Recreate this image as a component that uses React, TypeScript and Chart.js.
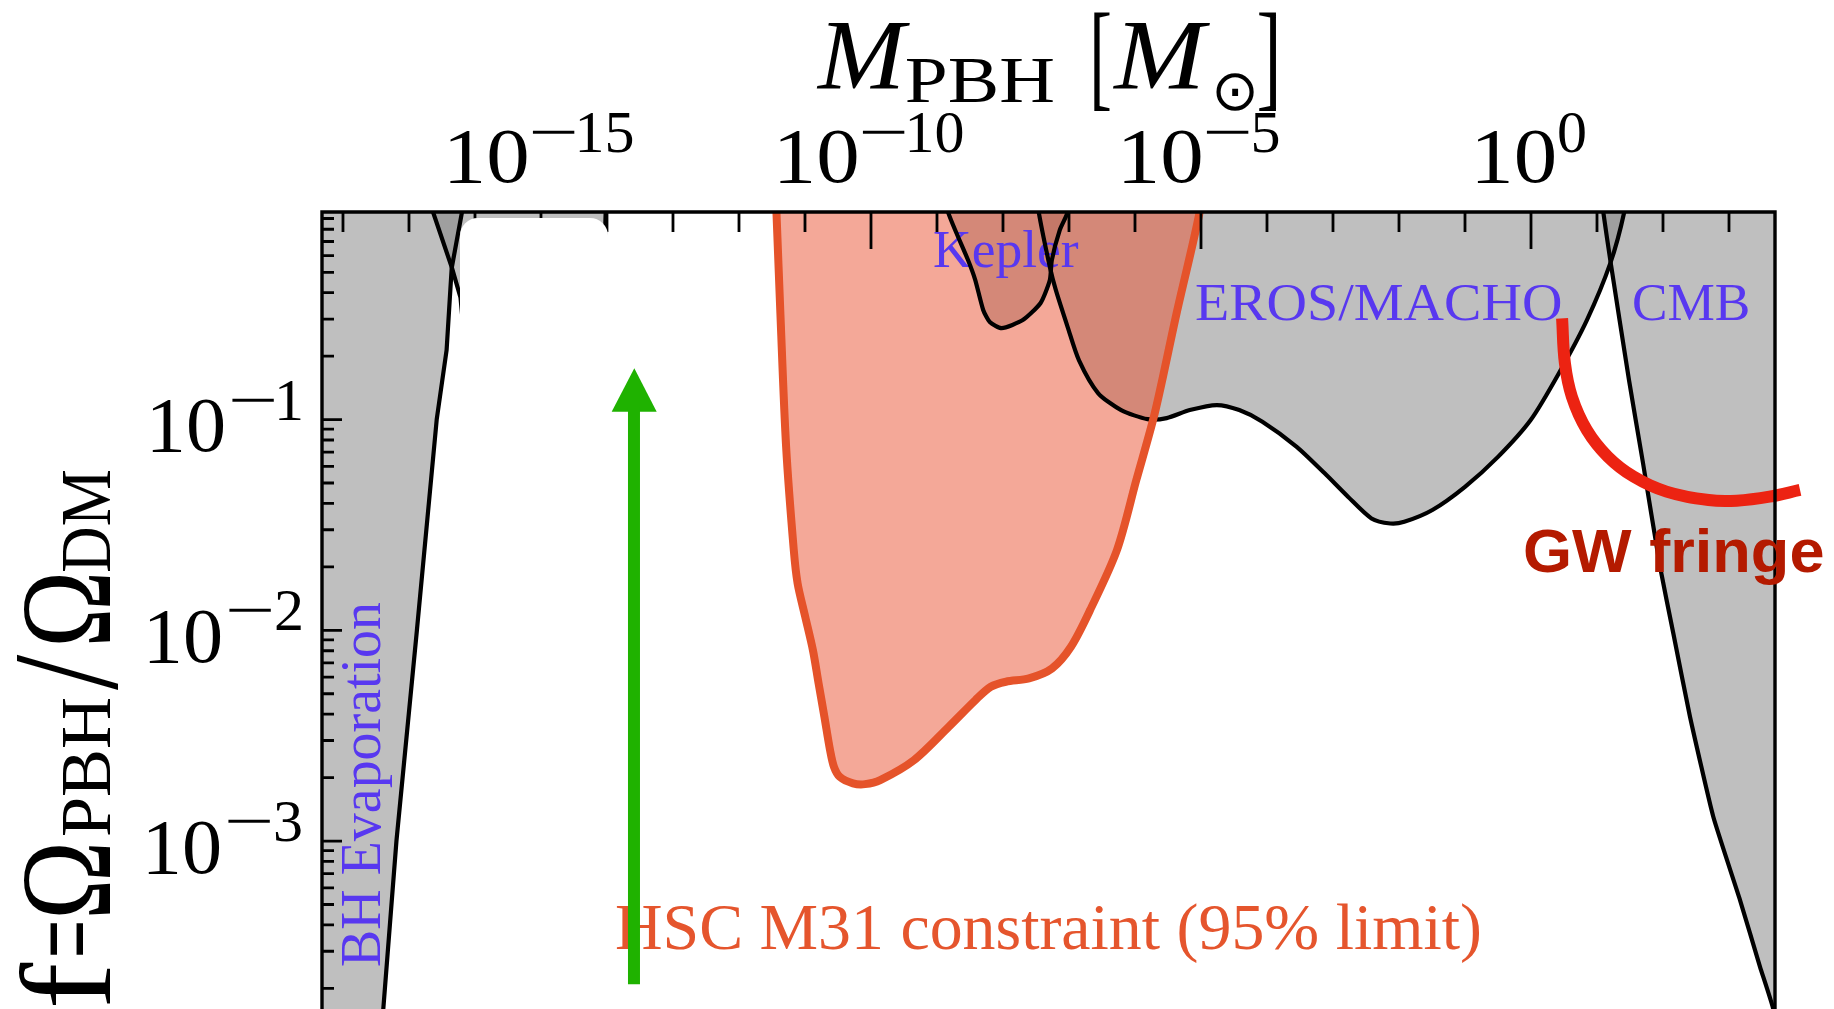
import React, { useEffect, useRef } from 'react';
import { Chart, registerables } from 'chart.js';

Chart.register(...registerables);

// ---------------- axis ranges (log10 units) ----------------
const X_LOG_MIN = -18.318;
const X_LOG_MAX = 3.697;
const Y_LOG_MIN = -3.797;
const Y_LOG_MAX = -0.015;

// ---------------- tick definitions ----------------
const xTickExps = [-18, -17, -16, -15, -14, -13, -12, -11, -10, -9, -8, -7, -6, -5, -4, -3, -2, -1, 0, 1, 2, 3];
const xLabelExps = [-15, -10, -5, 0];
const yDecadeExps = [0, -1, -2, -3, -4];
const yLabelExps = [-1, -2, -3];
const yMinorMultipliers = [2, 3, 4, 5, 6, 7, 8, 9];

// ---------------- constraint boundaries: log10(M/Msun), log10(f) ----------------
const evapLogM = [-16.15, -16.197, -16.353, -16.43, -16.58, -16.88, -17.19, -17.39, -17.45, -19.5, -19.5];
const evapLogF = [0.1, -0.015, -0.281, -0.67, -1.0, -2.0, -3.0, -3.8, -4.1, -4.1, 0.1];

const hiddenLogM = [-16.7, -16.636, -16.348, -16.22, -16.07, -14.1, -14.02, -14.0];
const hiddenLogF = [0.1, -0.015, -0.281, -0.42, -0.92, -0.92, -0.015, 0.1];

const keplerLogM = [-8.87, -8.833, -8.53, -8.42, -8.3, -8.2, -8.02, -7.7, -7.43, -7.29, -7.26, -7.14, -7.02, -6.99];
const keplerLogF = [0.1, -0.015, -0.243, -0.338, -0.48, -0.537, -0.566, -0.528, -0.447, -0.338, -0.243, -0.101, -0.015, 0.1];

const erosLogM = [-7.5, -7.459, -7.29, -7.2, -7.02, -6.85, -6.56, -6.21, -5.81, -5.52, -5.17, -4.76, -4.42, -4.07, -3.55, -3.126, -2.773, -2.417, -2.132, -1.92, -1.494, -1.0, -0.5, -0.005, 0.421, 0.847, 1.201, 1.413, 1.45];
const erosLogF = [0.1, -0.015, -0.276, -0.385, -0.561, -0.718, -0.874, -0.955, -0.998, -0.993, -0.955, -0.931, -0.955, -1.01, -1.129, -1.255, -1.366, -1.469, -1.493, -1.485, -1.429, -1.319, -1.177, -1.002, -0.781, -0.528, -0.259, -0.015, 0.1];

const cmbLogM = [4.5, 1.06, 1.095, 1.201, 1.485, 1.697, 1.955, 2.156, 2.409, 2.762, 3.167, 3.47, 3.67, 3.75, 4.5];
const cmbLogF = [0.1, 0.1, -0.015, -0.243, -0.813, -1.206, -1.698, -2.014, -2.41, -2.885, -3.28, -3.597, -3.797, -4.0, -4.0];

const hscLogM = [-11.45, -11.432, -11.373, -11.286, -11.17, -11.112, -10.997, -10.88, -10.794, -10.706, -10.62, -10.561, -10.474, -10.273, -10.09, -9.86, -9.348, -8.823, -8.417, -8.185, -7.955, -7.606, -7.258, -6.97, -6.68, -6.273, -5.98, -5.7, -5.37, -5.02, -4.99];
const hscLogF = [0.1, -0.02, -0.495, -1.129, -1.619, -1.777, -1.935, -2.094, -2.252, -2.41, -2.569, -2.648, -2.695, -2.726, -2.73, -2.711, -2.616, -2.458, -2.331, -2.268, -2.244, -2.228, -2.181, -2.078, -1.904, -1.619, -1.287, -0.969, -0.496, -0.015, 0.1];

const gwLogM = [0.471, 0.514, 0.62, 0.847, 1.165, 1.556, 2.053, 2.691, 3.117, 3.614, 4.076];
const gwLogF = [-0.52, -0.733, -0.892, -1.05, -1.176, -1.271, -1.342, -1.382, -1.385, -1.366, -1.334];

const arrowShaftLogM = [-13.591, -13.591];
const arrowShaftLogF = [-3.68, -0.94];
const arrowHeadLogM = [-13.929, -13.586, -13.247];
const arrowHeadLogF = [-0.963, -0.757, -0.963];

// ---------------- styles ----------------
const SERIF = '"Liberation Serif", "Times New Roman", serif';
const SANS = '"Liberation Sans", Arial, sans-serif';
const GRAY_FILL = 'rgba(128,128,128,0.5)';
const HSC_FILL = 'rgba(233,81,49,0.5)';
const HSC_LINE = '#e5532a';
const HSC_TEXT = '#e5552d';
const GREEN = '#1fb200';
const BLUE = 'rgb(88,56,240)';
const GW_LINE = '#ec2312';
const GW_TEXT = '#b41a00';

const pts = (lm: number[], lf: number[]) => lm.map((m, i) => ({ x: Math.pow(10, m), y: Math.pow(10, lf[i]) }));

const region = (label: string, lm: number[], lf: number[], tension: number) => ({
  label,
  data: pts(lm, lf),
  showLine: true,
  fill: 'shape',
  backgroundColor: GRAY_FILL,
  borderColor: '#000',
  borderWidth: 4.2,
  borderJoinStyle: 'round',
  pointRadius: 0,
  pointHitRadius: 0,
  tension,
  order: 10,
});

// ---------------- text helpers ----------------
function fitInk(ctx: CanvasRenderingContext2D, text: string, font: string, x0: number, x1: number, baseline: number, color: string) {
  ctx.save();
  ctx.font = font;
  ctx.textAlign = 'left';
  ctx.textBaseline = 'alphabetic';
  const m = ctx.measureText(text);
  const w = m.actualBoundingBoxLeft + m.actualBoundingBoxRight;
  const sx = w > 0 ? (x1 - x0) / w : 1;
  ctx.translate(x0, baseline);
  ctx.scale(sx, 1);
  ctx.fillStyle = color;
  ctx.fillText(text, m.actualBoundingBoxLeft, 0);
  ctx.restore();
}

function fitBox(ctx: CanvasRenderingContext2D, text: string, font: string, x0: number, x1: number, y0: number, y1: number, color: string) {
  ctx.save();
  ctx.font = font;
  ctx.textAlign = 'left';
  ctx.textBaseline = 'alphabetic';
  const m = ctx.measureText(text);
  const w = m.actualBoundingBoxLeft + m.actualBoundingBoxRight;
  const h = m.actualBoundingBoxAscent + m.actualBoundingBoxDescent;
  ctx.translate(x0, y0);
  ctx.scale((x1 - x0) / w, (y1 - y0) / h);
  ctx.fillStyle = color;
  ctx.fillText(text, m.actualBoundingBoxLeft, m.actualBoundingBoxAscent);
  ctx.restore();
}

function inkWidth(ctx: CanvasRenderingContext2D, text: string, font: string) {
  ctx.save();
  ctx.font = font;
  const m = ctx.measureText(text);
  ctx.restore();
  return m.actualBoundingBoxLeft + m.actualBoundingBoxRight;
}

const MAIN_TICK_FONT = `78px ${SERIF}`;
const SUP_TICK_FONT = `60px ${SERIF}`;

const decorPlugin = {
  id: 'decor',
  beforeDatasetsDraw(chart: any) {
    const ctx: CanvasRenderingContext2D = chart.ctx;
    fitInk(ctx, 'Kepler', `53px ${SERIF}`, 934, 1079, 267, BLUE);
    fitInk(ctx, 'EROS/MACHO', `53px ${SERIF}`, 1196, 1561, 320, BLUE);
    fitInk(ctx, 'CMB', `53px ${SERIF}`, 1634, 1748, 320, BLUE);
    ctx.save();
    ctx.translate(380, 966);
    ctx.rotate(-Math.PI / 2);
    fitInk(ctx, 'BH Evaporation', `58px ${SERIF}`, 0, 364, 0, BLUE);
    ctx.restore();
    fitInk(ctx, 'HSC M31 constraint (95% limit)', `66px ${SERIF}`, 616, 1480, 949, HSC_TEXT);
  },
  afterDatasetsDraw(chart: any) {
    const ctx: CanvasRenderingContext2D = chart.ctx;
    const a = chart.chartArea;
    const xs = chart.scales.x;
    const ys = chart.scales.y;
    ctx.save();
    ctx.strokeStyle = '#000';
    ctx.lineCap = 'butt';
    ctx.lineWidth = 2.8;
    ctx.beginPath();
    for (const e of xTickExps) {
      const px = xs.getPixelForValue(Math.pow(10, e));
      const len = xLabelExps.includes(e) ? 37 : 20;
      ctx.moveTo(px, a.top);
      ctx.lineTo(px, a.top + len);
    }
    for (const e of yDecadeExps) {
      const all = [1, ...yMinorMultipliers];
      for (const k of all) {
        const py = ys.getPixelForValue(k * Math.pow(10, e));
        if (py < a.top + 2 || py > a.bottom) continue;
        const len = k === 1 ? 20 : 12;
        ctx.moveTo(a.left, py);
        ctx.lineTo(a.left + len, py);
      }
    }
    ctx.stroke();
    ctx.lineWidth = 3.4;
    ctx.lineJoin = 'miter';
    ctx.beginPath();
    ctx.moveTo(a.left, a.bottom + 5);
    ctx.lineTo(a.left, a.top);
    ctx.lineTo(a.right, a.top);
    ctx.lineTo(a.right, a.bottom + 5);
    ctx.stroke();
    // white patch covering a legend in the original figure
    ctx.fillStyle = '#ffffff';
    ctx.beginPath();
    (ctx as any).roundRect(460, a.top + 6, 148, 194, 18);
    ctx.fill();
    ctx.restore();
  },
  afterDraw(chart: any) {
    const ctx: CanvasRenderingContext2D = chart.ctx;
    const a = chart.chartArea;
    const xs = chart.scales.x;
    const ys = chart.scales.y;
    // top tick labels
    for (const e of xLabelExps) {
      const px = xs.getPixelForValue(Math.pow(10, e));
      const digits = String(Math.abs(e));
      const dW = inkWidth(ctx, digits, SUP_TICK_FONT);
      const mainW = 78, minusW = 43, g1 = 4, g2 = 5;
      const total = mainW + g1 + (e < 0 ? minusW + g2 : 0) + dW;
      let x = px - total / 2;
      fitInk(ctx, '10', MAIN_TICK_FONT, x, x + mainW, a.top - 30, '#000');
      x += mainW + g1;
      if (e < 0) {
        fitInk(ctx, '\u2212', SUP_TICK_FONT, x, x + minusW, a.top - 60, '#000');
        x += minusW + g2;
      }
      fitInk(ctx, digits, SUP_TICK_FONT, x, x + dW, a.top - 60, '#000');
    }
    // left tick labels
    for (const e of yLabelExps) {
      const py = ys.getPixelForValue(Math.pow(10, e));
      const digits = String(Math.abs(e));
      const dW = inkWidth(ctx, digits, SUP_TICK_FONT);
      const right = a.left - 21;
      let x = right - dW;
      fitInk(ctx, digits, SUP_TICK_FONT, x, right, py, '#000');
      x -= 5 + 43;
      fitInk(ctx, '\u2212', SUP_TICK_FONT, x, x + 43, py, '#000');
      x -= 7 + 72;
      fitInk(ctx, '10', MAIN_TICK_FONT, x, x + 72, py + 31.6, '#000');
    }
    // x axis title: M_PBH [M_sun]
    fitInk(ctx, 'M', `italic 100px ${SERIF}`, 816, 910, 88, '#000');
    fitInk(ctx, 'PBH', `66px ${SERIF}`, 906, 1053, 102, '#000');
    fitBox(ctx, '[', `115px ${SERIF}`, 1094, 1110, 12, 110, '#000');
    fitInk(ctx, 'M', `italic 100px ${SERIF}`, 1112, 1210, 88, '#000');
    fitBox(ctx, '\u2299', `60px "DejaVu Sans"`, 1216, 1254, 73, 111, '#000');
    fitBox(ctx, ']', `115px ${SERIF}`, 1259, 1276, 12, 110, '#000');
    // y axis title: f = Omega_PBH / Omega_DM (rotated)
    ctx.save();
    ctx.translate(110, 1005);
    ctx.rotate(-Math.PI / 2);
    const MAIN = `130px ${SERIF}`;
    const SUB = `72px ${SERIF}`;
    fitInk(ctx, 'f', MAIN, 0, 43, 0, '#000');
    fitInk(ctx, '=', MAIN, 50, 82, 0, '#000');
    fitInk(ctx, '\u03A9', MAIN, 90, 159, 0, '#000');
    fitInk(ctx, 'PBH', SUB, 170, 306, 0, '#000');
    fitBox(ctx, '/', MAIN, 315, 351, -92, 8, '#000');
    fitInk(ctx, '\u03A9', MAIN, 362, 429, 0, '#000');
    fitInk(ctx, 'DM', SUB, 434, 534, 0, '#000');
    ctx.restore();
    // annotation
    fitInk(ctx, 'GW fringe', `bold 62px ${SANS}`, 1525, 1823, 572, GW_TEXT);
  },
};

export default function App() {
  const ref = useRef<HTMLCanvasElement>(null);
  useEffect(() => {
    document.body.style.margin = '0';
    const canvas = ref.current;
    if (!canvas) return;
    const datasets: any[] = [
      region('BH Evaporation', evapLogM, evapLogF, 0),
      region('covered', hiddenLogM, hiddenLogF, 0),
      region('Kepler', keplerLogM, keplerLogF, 0.2),
      region('EROS/MACHO', erosLogM, erosLogF, 0.25),
      region('CMB', cmbLogM, cmbLogF, 0.15),
      {
        label: 'HSC M31',
        data: pts(hscLogM, hscLogF),
        showLine: true,
        fill: 'shape',
        backgroundColor: HSC_FILL,
        borderColor: HSC_LINE,
        borderWidth: 8,
        borderJoinStyle: 'round',
        pointRadius: 0,
        pointHitRadius: 0,
        tension: 0.3,
        order: 5,
      },
      {
        label: 'arrow head',
        data: pts(arrowHeadLogM, arrowHeadLogF),
        showLine: true,
        fill: 'shape',
        backgroundColor: GREEN,
        borderColor: 'rgba(0,0,0,0)',
        borderWidth: 0,
        pointRadius: 0,
        pointHitRadius: 0,
        order: 3,
      },
      {
        label: 'arrow shaft',
        data: pts(arrowShaftLogM, arrowShaftLogF),
        showLine: true,
        fill: false,
        borderColor: GREEN,
        borderWidth: 12,
        borderCapStyle: 'butt',
        pointRadius: 0,
        pointHitRadius: 0,
        order: 2,
      },
      {
        label: 'GW fringe',
        data: pts(gwLogM, gwLogF),
        showLine: true,
        fill: false,
        borderColor: GW_LINE,
        borderWidth: 12,
        borderCapStyle: 'butt',
        pointRadius: 0,
        pointHitRadius: 0,
        tension: 0.4,
        clip: false,
        order: 1,
      },
    ];
    const chart = new Chart(canvas, {
      type: 'scatter',
      data: { datasets },
      options: {
        responsive: false,
        animation: false,
        devicePixelRatio: 1,
        events: [],
        layout: { padding: { left: 0, right: 59, top: 0, bottom: 0 } },
        plugins: {
          legend: { display: false },
          tooltip: { enabled: false },
          filler: { drawTime: 'beforeDatasetsDraw', propagate: false },
        } as any,
        scales: {
          x: {
            type: 'logarithmic',
            position: 'top',
            bounds: 'data',
            min: Math.pow(10, X_LOG_MIN),
            max: Math.pow(10, X_LOG_MAX),
            ticks: { display: false },
            grid: { display: false },
            border: { display: false },
            afterFit: (s: any) => { s.height = 212; },
          },
          y: {
            type: 'logarithmic',
            position: 'left',
            bounds: 'data',
            min: Math.pow(10, Y_LOG_MIN),
            max: Math.pow(10, Y_LOG_MAX),
            ticks: { display: false },
            grid: { display: false },
            border: { display: false },
            afterFit: (s: any) => { s.width = 322; },
          },
        } as any,
      },
      plugins: [decorPlugin],
    } as any);
    return () => chart.destroy();
  }, []);
  return (
    <div style={{ width: 1834, height: 1009, overflow: 'hidden', background: '#ffffff' }}>
      <canvas ref={ref} width={1834} height={1009} style={{ display: 'block', width: 1834, height: 1009 }} />
    </div>
  );
}
